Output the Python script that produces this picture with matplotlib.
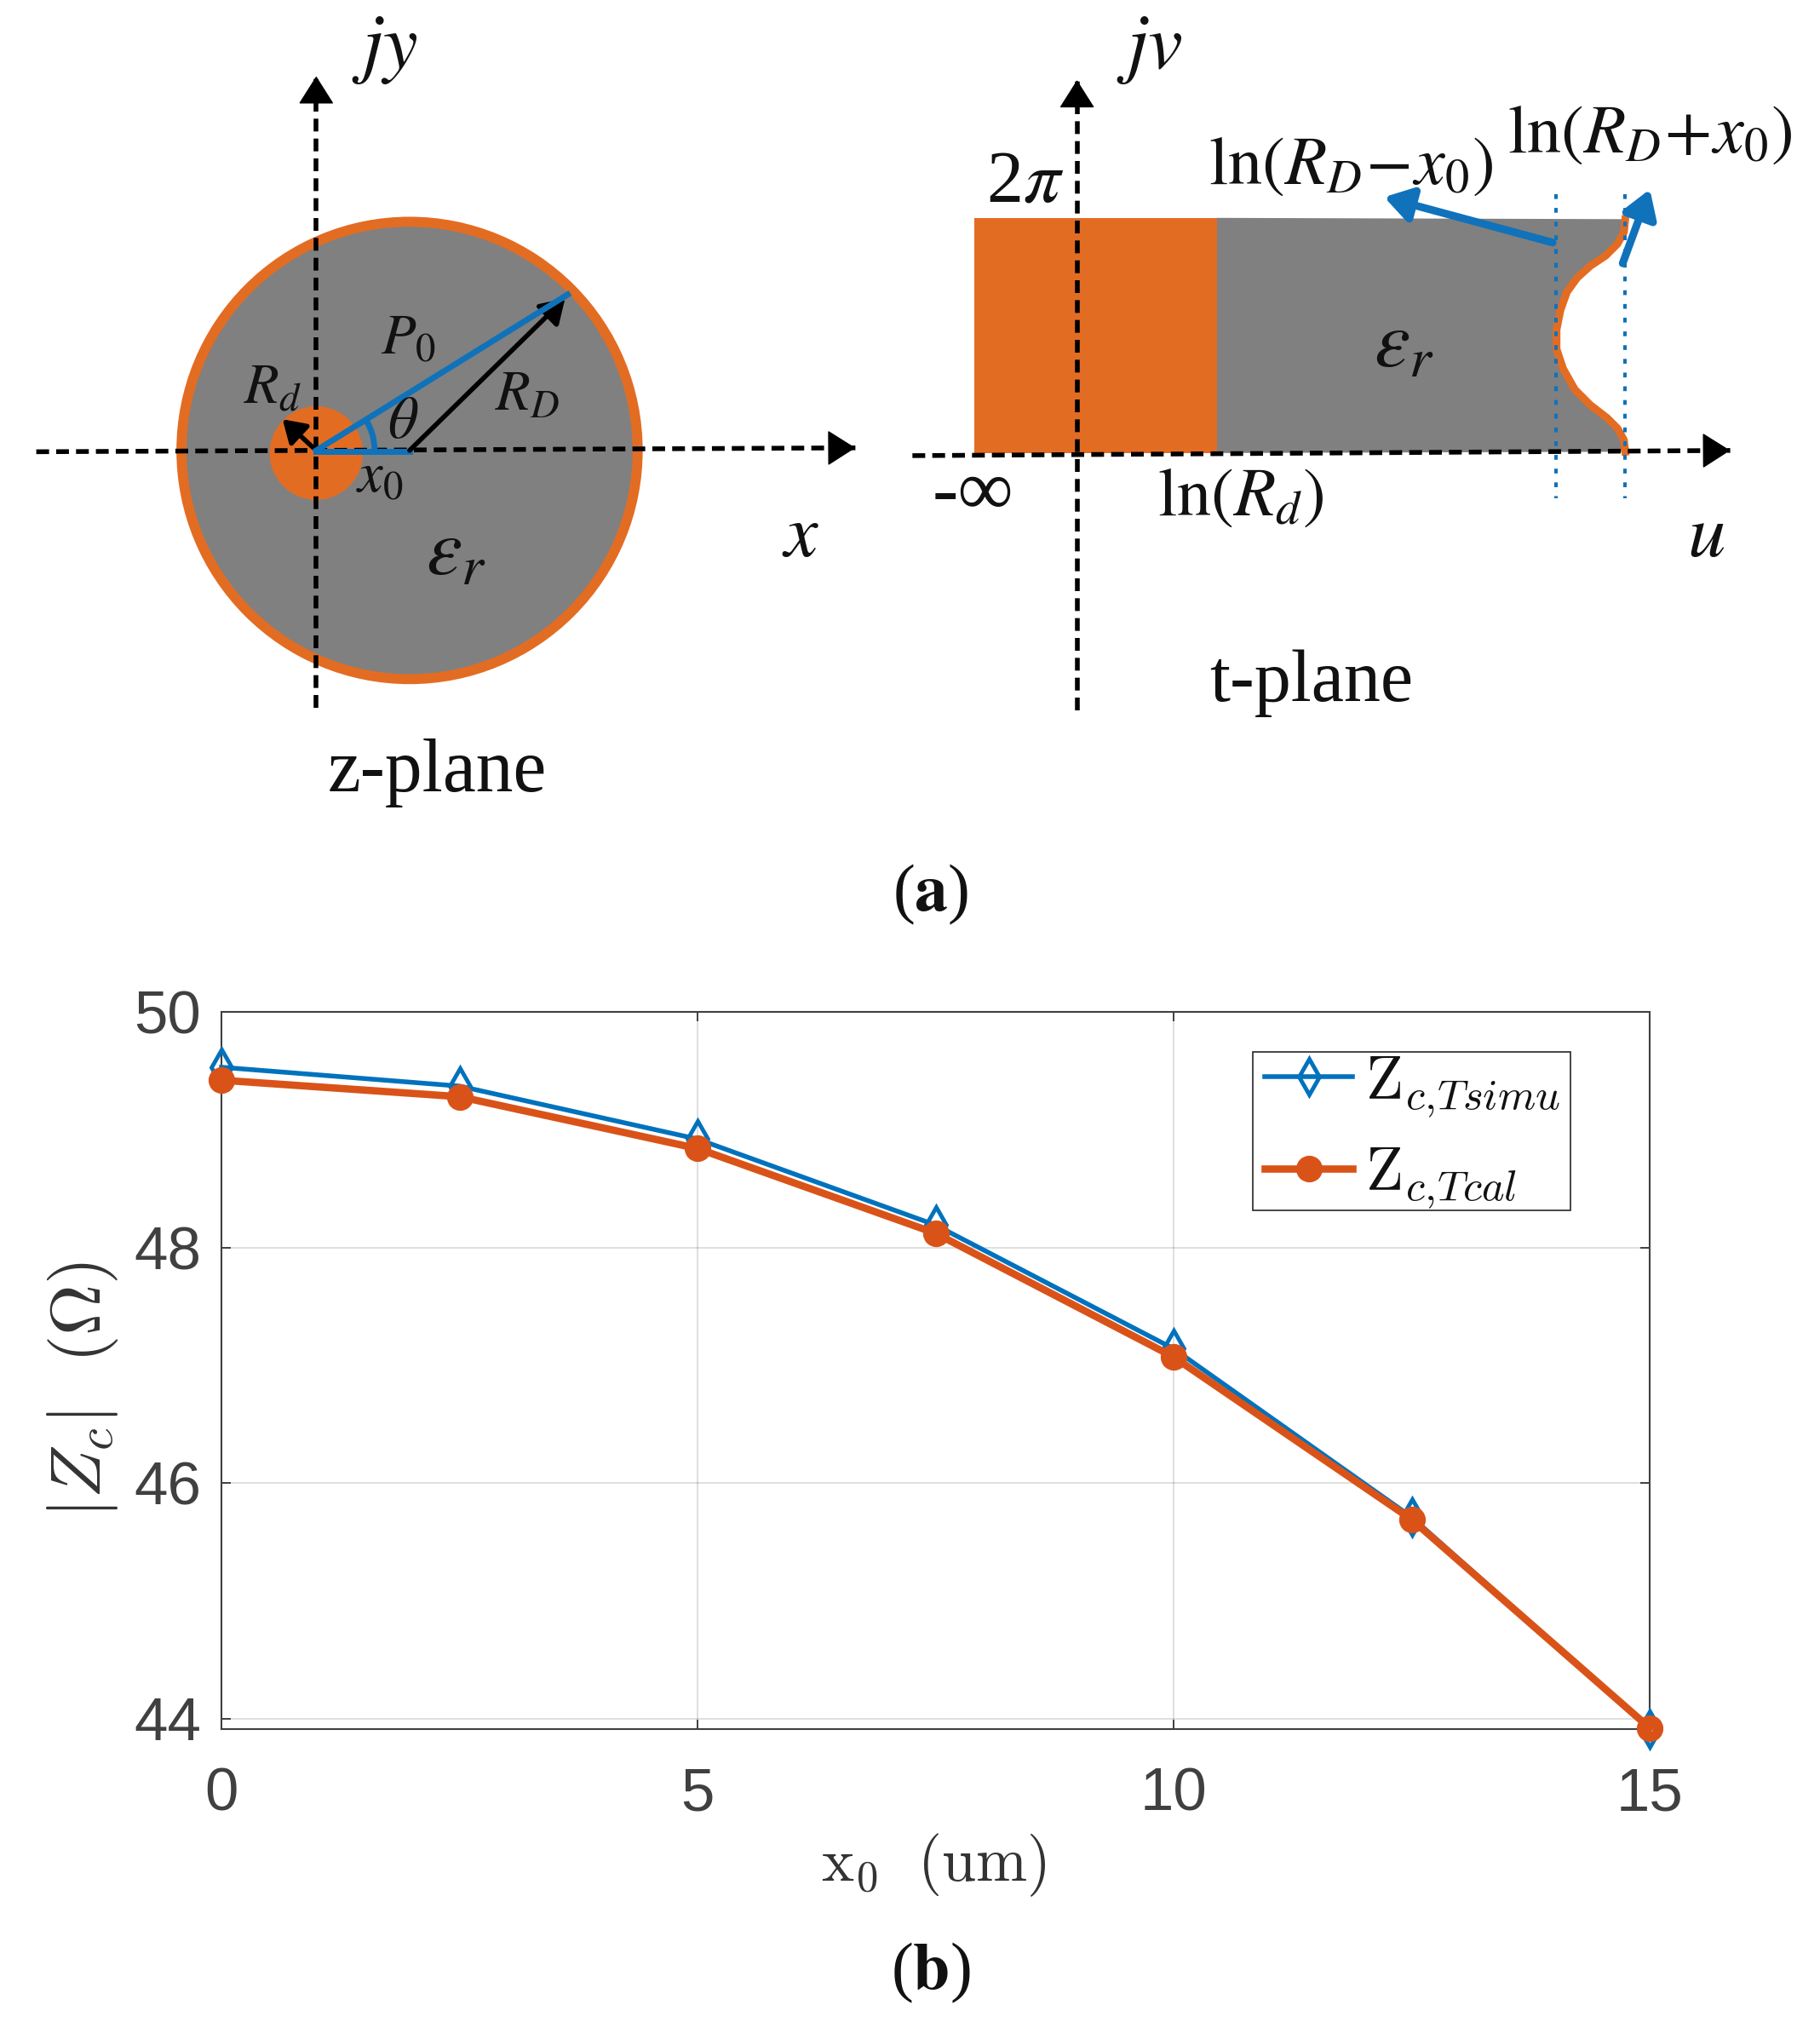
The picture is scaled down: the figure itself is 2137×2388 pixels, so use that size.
import matplotlib
matplotlib.use("Agg")
import matplotlib.pyplot as plt
from matplotlib.patches import Circle, Polygon, Rectangle, Arc

plt.rcParams['font.family'] = ['Liberation Serif', 'DejaVu Serif']
plt.rcParams['mathtext.fontset'] = 'stix'

# chart data, panel (b)
x0_um = [0, 2.5, 5, 7.5, 10, 12.5, 15]
z_simu = [49.53, 49.37, 48.92, 48.19, 47.14, 45.71, 43.91]
z_cal = [49.42, 49.28, 48.84, 48.12, 47.07, 45.69, 43.92]
x_ticks = [0, 5, 10, 15]
y_ticks = [44, 46, 48, 50]

# diagram outline for the t-plane, panel (a), in layout units
bite_u = [1254, 1253, 1248, 1239, 1227, 1217, 1209, 1204, 1201, 1201, 1206, 1215, 1227, 1240, 1248, 1253, 1254]
bite_v = [170, 180, 189, 198, 206, 215, 226, 240, 255, 270, 285, 301, 313, 323, 331, 340, 349]

# layout units to pixels: px = u * 1.5218, py = v * 1.5254 - 2
SX, SY = 1.5218, 1.5254
ORANGE = '#E36C23'
GRAY = '#808080'
BLUE = '#1072BA'
TEXT = '#404040'

fig = plt.figure(figsize=(21.37, 23.88), dpi=100, facecolor='white')

# everything in panel (a) lives on a full figure overlay
top = fig.add_axes([0, 0, 1, 1])
top.set_xlim(0, 2137 / SX)
top.set_ylim((2388 + 2) / SY, 2 / SY)
top.axis('off')


def arrow(start, end, color='black', lw=4.0, scale=36):
    top.annotate('', xy=end, xytext=start, zorder=6,
                 arrowprops=dict(arrowstyle='-|>,head_width=0.38,head_length=0.6', color=color,
                                 lw=lw, mutation_scale=scale, shrinkA=0, shrinkB=0))


def dashed_axis(start, end):
    top.plot([start[0], end[0]], [start[1], end[1]], color='black', lw=4.0,
             dashes=(2.7, 1.5), zorder=5)
    arrow((end[0] * 0.98 + start[0] * 0.02, end[1] * 0.98 + start[1] * 0.02), end, lw=1, scale=36)


def label(x, y, s, size=58, **kw):
    top.text(x, y, s, fontsize=size, ha='center', va='center', color='#111111', zorder=8, **kw)


# z-plane
top.add_patch(Circle((316, 348), 176, fc=GRAY, ec=ORANGE, lw=8.5, zorder=1))
top.add_patch(Circle((244, 350), 36, fc=ORANGE, ec='none', zorder=2))
dashed_axis((244, 546), (244, 60))
dashed_axis((28, 349), (660, 346))
top.plot([244, 316], [349, 349], color=BLUE, lw=5, zorder=6)
arrow((316, 348), (436, 231), lw=4, scale=28)
top.plot([244, 438], [348, 228], color=BLUE, lw=5, zorder=7)
arrow((244, 348), (218, 324), lw=4, scale=26)
top.add_patch(Arc((244, 348), 90, 90, theta1=-32, theta2=0, color=BLUE, lw=5, zorder=6))

label(297, 40, r'$jy$', size=66)
label(315, 263, r'$P_0$', size=48)
label(210, 301, r'$R_d$', size=48)
label(407, 306, r'$R_D$', size=48)
label(311, 327, r'$\theta$', size=50)
label(293, 369, r'$x_0$', size=48)
label(352, 429, r'$\varepsilon_r$', size=68)
label(618, 415, r'$x$', size=64)
label(337, 596, 'z-plane', size=63)

# t-plane
top.add_patch(Rectangle((752, 169), 187, 181, fc=ORANGE, ec='none', zorder=1))
gray_outline = [(939, 169)] + list(zip(bite_u, bite_v)) + [(939, 350)]
top.add_patch(Polygon(gray_outline, closed=True, fc=GRAY, ec='none', zorder=1))
top.plot(bite_u, bite_v, color=ORANGE, lw=6.5, zorder=2, solid_joinstyle='round')
dashed_axis((831, 548), (831, 63))
dashed_axis((704, 352), (1335, 348))
for u in [1200.5, 1254]:
    top.plot([u, u], [151, 385], color=BLUE, lw=2.9, ls=(0, (1.4, 2.6)), zorder=6)
arrow((1198, 188), (1068, 153), color=BLUE, lw=6.5, scale=32)
arrow((1252, 204), (1273, 147), color=BLUE, lw=6.5, scale=32)

label(887, 40, r'$jv$', size=66)
label(791, 143, r'2$\pi$', size=62)
label(1042, 130, r'$\mathrm{ln}(R_D\!-\!x_0)$', size=58)
label(1273, 106, r'$\mathrm{ln}(R_D\!+\!x_0)$', size=58)
label(1083, 269, r'$\varepsilon_r$', size=68)
label(751, 383, '-∞', size=66)
label(957, 385, r'$\mathrm{ln}(R_d)$', size=58)
label(1316, 415, r'$u$', size=64)
label(1012, 527, 't-plane', size=62)
label(718, 690, r'($\mathbf{a}$)', size=56)
label(718, 1520, r'($\mathbf{b}$)', size=56)

# panel (b), real axes
ax = fig.add_axes([260 / 2137, 1 - 2030 / 2388, (1937 - 260) / 2137, (2030 - 1188) / 2388])
ax.plot(x0_um, z_simu, color='#0072BD', lw=4, marker='d', ms=21, mfc='none', mew=3.5,
        clip_on=False, zorder=4, label=r'$\mathrm{Z}_{c,\!Tsimu}$')
ax.plot(x0_um, z_cal, color='#D95319', lw=6.2, marker='o', ms=14, mfc='none', mew=8.5,
        clip_on=False, zorder=5, label=r'$\mathrm{Z}_{c,\!Tcal}$')
ax.set_xlim(0, 15)
ax.set_ylim(43.91, 50)
ax.set_xticks(x_ticks)
ax.set_yticks(y_ticks)
ax.grid(True, color='#000000', alpha=0.15, lw=1.2)
ax.set_axisbelow(True)
ax.tick_params(direction='in', length=8, width=1.4, top=True, right=True, colors='#404040',
               labelcolor=TEXT, labelsize=51)
ax.tick_params(axis='x', pad=32)
ax.tick_params(axis='y', pad=17)
for lab in ax.get_xticklabels() + ax.get_yticklabels():
    lab.set_family('Liberation Sans')
for side in ax.spines.values():
    side.set_color('#404040')
    side.set_linewidth(1.5)

ax.set_xlabel(r'$\mathrm{x_0}\ \ \mathrm{(um)}$', fontsize=52, color='#333333', math_fontfamily='cm', va='center')
ax.xaxis.set_label_coords(0.499, -0.19)
ax.set_ylabel(r'$|Z_c|\ \ (\Omega)$', fontsize=60, color='#333333', math_fontfamily='cm', va='center')
ax.yaxis.set_label_coords(-0.097, 0.473)

# legend box drawn apart from the entries, its padding differs per side
ax.add_patch(Rectangle(((966 - 170) / 1102, 1 - (933 - 780) / 552), 245 / 1102, 122 / 552, transform=ax.transAxes,
                       fc='white', ec='#262626', lw=1.2, zorder=6))
leg = ax.legend(loc='upper left', bbox_to_anchor=((975 - 170) / 1102, 1 - (813 - 780) / 552), fontsize=52,
                frameon=False, handlelength=1.43, labelspacing=0.45, borderpad=0, handletextpad=0.2, borderaxespad=0)
leg.set_zorder(7)
for t in leg.get_texts():
    t.set_math_fontfamily('cm')
    t.set_color('#111111')

fig.savefig('out.png', dpi=100, facecolor='white')
